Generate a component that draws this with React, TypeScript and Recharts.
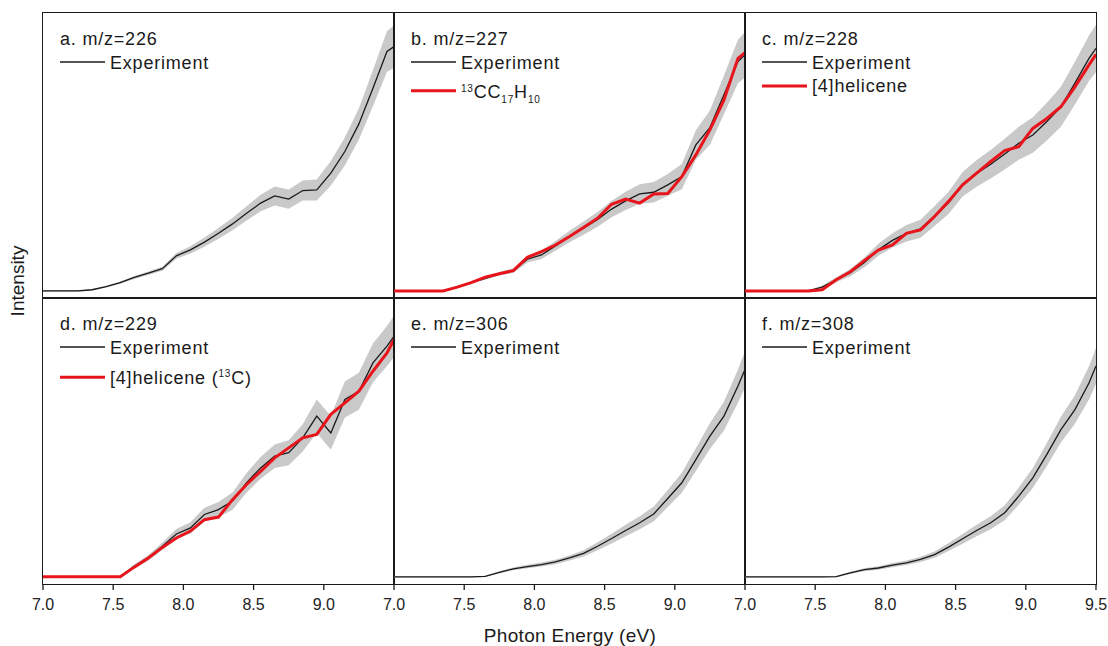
import React from "react"
import { ComposedChart, Line, Area, XAxis, YAxis } from "recharts"

// photon energy grid (eV), shared by every panel
const energy = [
  7.0, 7.05, 7.15, 7.25, 7.35, 7.45, 7.55, 7.65, 7.75, 7.85, 7.95, 8.05, 8.15, 8.25,
  8.35, 8.45, 8.55, 8.65, 8.75, 8.85, 8.95, 9.05, 9.15, 9.25, 9.35, 9.45, 9.5,
]

// a. m/z=226
const expA = [0, 0, 0, 0, 0.4, 1.5, 2.9, 4.7, 6.2, 7.8, 12.3, 14.4, 17.1, 20.2, 23.5, 27.2, 30.8, 33.3, 32.2, 35.2, 35.4, 41.3, 48.9, 58.6, 71.1, 84.0, 85.7]
const errA = [0.3, 0.3, 0.3, 0.3, 0.3, 0.3, 0.4, 0.5, 0.6, 0.7, 1.0, 1.3, 1.6, 1.9, 2.2, 2.5, 2.9, 3.3, 3.4, 3.5, 3.7, 4.3, 4.9, 5.5, 6.3, 7.1, 7.5]

// b. m/z=227
const expB = [0, 0, 0, 0, 0, 1.3, 2.9, 4.4, 6.0, 7.1, 11.1, 12.6, 15.8, 19.1, 22.0, 25.1, 28.7, 31.6, 34.0, 34.6, 37.2, 40.1, 51.2, 57.3, 68.8, 80.5, 82.8]
const errB = [0.3, 0.3, 0.3, 0.3, 0.3, 0.3, 0.4, 0.5, 0.6, 0.8, 1.1, 1.4, 1.7, 2.0, 2.3, 2.6, 2.9, 3.2, 3.4, 3.6, 3.8, 4.4, 5.2, 6.0, 6.8, 7.6, 8.0]
const modelB = [0, 0, 0, 0, 0, 1.3, 2.9, 4.8, 6.0, 7.1, 11.8, 13.8, 16.1, 19.1, 22.2, 25.5, 30.4, 32.2, 30.8, 34.0, 34.2, 40.1, 47.7, 56.5, 67.0, 81.6, 83.6]

// c. m/z=228
const expC = [0, 0, 0, 0, 0, 0, 1.3, 3.9, 6.4, 10.0, 14.4, 17.7, 20.2, 21.8, 26.3, 30.9, 37.4, 41.2, 44.4, 48.0, 51.8, 54.7, 59.4, 64.6, 72.9, 81.6, 85.1]
const errC = [0.3, 0.3, 0.3, 0.3, 0.3, 0.3, 0.6, 0.9, 1.3, 1.7, 2.1, 2.5, 2.9, 3.2, 3.5, 3.9, 4.3, 4.7, 5.0, 5.4, 5.8, 6.2, 6.6, 7.0, 7.5, 8.0, 8.3]
const modelC = [0, 0, 0, 0, 0, 0, 0.4, 3.9, 6.7, 10.6, 14.3, 16.1, 20.2, 21.4, 26.1, 31.4, 37.2, 41.3, 45.4, 49.2, 50.6, 57.0, 60.5, 64.6, 71.6, 79.3, 83.0]

// d. m/z=229
const expD = [0, 0, 0, 0, 0, 0, 0, 3.7, 6.6, 10.7, 15.0, 17.1, 21.8, 23.5, 26.5, 32.9, 38.1, 42.2, 43.4, 48.6, 56.2, 50.3, 62.0, 64.9, 74.8, 80.7, 84.1]
const errD = [0.3, 0.3, 0.3, 0.3, 0.3, 0.3, 0.3, 0.7, 1.0, 1.3, 1.7, 2.0, 2.4, 2.7, 3.0, 3.4, 3.8, 4.1, 4.4, 4.8, 5.8, 5.9, 6.3, 6.5, 6.8, 7.0, 7.2]
const modelD = [0, 0, 0, 0, 0, 0, 0, 3.4, 6.6, 10.3, 13.6, 16.0, 20.0, 20.9, 27.0, 32.3, 36.9, 41.6, 45.1, 48.6, 49.8, 56.8, 60.8, 64.9, 71.9, 78.3, 83.0]

// e. m/z=306
const expE = [0, 0, 0, 0, 0, 0, 0, 0.2, 1.6, 2.8, 3.6, 4.3, 5.2, 6.6, 8.2, 10.7, 13.4, 16.2, 18.9, 22.0, 27.4, 32.9, 41.0, 49.2, 56.2, 66.7, 72.5]
const errE = [0.2, 0.2, 0.2, 0.2, 0.2, 0.2, 0.2, 0.2, 0.4, 0.5, 0.6, 0.7, 0.8, 0.9, 1.1, 1.4, 1.7, 2.0, 2.3, 2.6, 3.0, 3.5, 4.0, 4.5, 5.0, 5.8, 6.3]

// f. m/z=308
const expF = [0, 0, 0, 0, 0, 0, 0, 0.1, 1.4, 2.5, 3.1, 4.1, 4.9, 6.1, 7.8, 10.4, 13.3, 16.2, 18.9, 22.4, 28.2, 34.6, 42.8, 51.5, 58.5, 67.8, 73.7]
const errF = [0.2, 0.2, 0.2, 0.2, 0.2, 0.2, 0.2, 0.2, 0.4, 0.5, 0.6, 0.7, 0.8, 0.9, 1.1, 1.4, 1.7, 2.0, 2.3, 2.6, 3.0, 3.5, 4.0, 4.5, 5.0, 5.8, 6.3]

const minorTicks = [
  7.0, 7.1, 7.2, 7.3, 7.4, 7.5, 7.6, 7.7, 7.8, 7.9, 8.0, 8.1, 8.2,
  8.3, 8.4, 8.5, 8.6, 8.7, 8.8, 8.9, 9.0, 9.1, 9.2, 9.3, 9.4, 9.5,
]
const tickLabels = [7.0, 7.5, 8.0, 8.5, 9.0]
const lastTickLabels = [7.0, 7.5, 8.0, 8.5, 9.0, 9.5]

const titles = ["a. m/z=226", "b. m/z=227", "c. m/z=228", "d. m/z=229", "e. m/z=306", "f. m/z=308"]

const FONT = "'Liberation Sans', Arial, sans-serif"
const INK = "#1a1a1a"
const RED = "#e8141b"
const BAND = "#c9c9c9"

const colX = [43, 394, 745]
const rowY = [13, 298]
const rowH = [285, 286]
const PANEL_W = 351
const PAD = 24
const AXIS_H = 34

function Panel({ col, row, exp, err, model, labels }: any) {
  const data = energy.map((e, i) => ({
    e,
    exp: exp[i],
    band: [exp[i] - err[i], exp[i] + err[i]],
    model: model ? model[i] : null,
  }))
  const h = rowH[row]
  const showText = row === 1
  return (
    <div style={{ position: "absolute", left: colX[col] - PAD, top: rowY[row] }}>
      <ComposedChart
        width={PANEL_W + 2 * PAD}
        height={h + AXIS_H}
        data={data}
        margin={{ top: 0, right: PAD, bottom: 0, left: PAD }}
      >
        <XAxis
          xAxisId="minor"
          dataKey="e"
          type="number"
          domain={[7, 9.5]}
          ticks={minorTicks}
          interval={0}
          height={0}
          axisLine={false}
          tick={false}
          tickSize={4}
          tickLine={{ stroke: INK, strokeWidth: 1.3 }}
        />
        <XAxis
          xAxisId="major"
          dataKey="e"
          type="number"
          domain={[7, 9.5]}
          ticks={labels}
          interval={0}
          height={AXIS_H}
          axisLine={false}
          tickSize={6}
          tickMargin={9}
          tickLine={{ stroke: INK, strokeWidth: 1.3 }}
          tick={showText ? { fontSize: 16, fill: "#222", fontFamily: FONT } : false}
          tickFormatter={(v: number) => v.toFixed(1)}
        />
        <YAxis type="number" domain={[-2.5, 97.5]} hide />
        <Area xAxisId="minor" type="linear" dataKey="band" stroke="none" fill={BAND} fillOpacity={1} isAnimationActive={false} />
        <Line xAxisId="minor" type="linear" dataKey="exp" stroke={INK} strokeWidth={1.3} dot={false} isAnimationActive={false} />
        {model && (
          <Line xAxisId="minor" type="linear" dataKey="model" stroke={RED} strokeWidth={3} dot={false} isAnimationActive={false} />
        )}
      </ComposedChart>
      <div
        style={{
          position: "absolute",
          left: PAD - 0.8,
          top: -0.8,
          width: PANEL_W + 1.6,
          height: h + 1.6,
          border: `1.6px solid ${INK}`,
          boxSizing: "border-box",
          pointerEvents: "none",
        }}
      />
    </div>
  )
}

const txt = { fontFamily: FONT, fontSize: 18, fill: INK, letterSpacing: 0.8 }

function Annotations() {
  const items: React.ReactNode[] = []
  titles.forEach((t, i) => {
    const cx = colX[i % 3]
    const ty = rowY[Math.floor(i / 3)]
    items.push(
      <g key={t}>
        <text x={cx + 17} y={ty + 31.5} {...txt}>{t}</text>
        <line x1={cx + 17} x2={cx + 62} y1={ty + 49} y2={ty + 49} stroke={INK} strokeWidth={1.3} />
        <text x={cx + 67} y={ty + 55.5} {...txt}>Experiment</text>
      </g>
    )
  })
  const redLine = (cx: number, y: number) => (
    <line x1={cx + 17} x2={cx + 62} y1={y} y2={y} stroke={RED} strokeWidth={3} />
  )
  return (
    <svg width={1108} height={646} style={{ position: "absolute", left: 0, top: 0, pointerEvents: "none" }}>
      {items}
      {redLine(colX[1], rowY[0] + 77.7)}
      <text x={colX[1] + 67} y={rowY[0] + 84.7} {...txt}>
        <tspan fontSize={10} dy={-6}>13</tspan>
        <tspan dy={6}>CC</tspan>
        <tspan fontSize={10} dy={5}>17</tspan>
        <tspan dy={-5}>H</tspan>
        <tspan fontSize={10} dy={5}>10</tspan>
      </text>
      {redLine(colX[2], rowY[0] + 73)}
      <text x={colX[2] + 67} y={rowY[0] + 79} {...txt}>[4]helicene</text>
      {redLine(colX[0], rowY[1] + 79.3)}
      <text x={colX[0] + 67} y={rowY[1] + 85.5} {...txt}>
        [4]helicene (<tspan fontSize={10} dy={-7}>13</tspan>
        <tspan dy={7}>C)</tspan>
      </text>
      <text x={570} y={641.5} textAnchor="middle" fontFamily={FONT} fontSize={19} fill={INK} letterSpacing={0.3}>
        Photon Energy (eV)
      </text>
      <text
        x={23.5}
        y={281}
        transform="rotate(-90 23.5 281)"
        textAnchor="middle"
        fontFamily={FONT}
        fontSize={19}
        fill={INK}
      >
        Intensity
      </text>
    </svg>
  )
}

export default function App() {
  return (
    <div style={{ position: "absolute", left: 0, top: 0, width: 1108, height: 646, background: "#fff", overflow: "hidden" }}>
      <Panel col={0} row={0} exp={expA} err={errA} labels={tickLabels} />
      <Panel col={1} row={0} exp={expB} err={errB} model={modelB} labels={tickLabels} />
      <Panel col={2} row={0} exp={expC} err={errC} model={modelC} labels={lastTickLabels} />
      <Panel col={0} row={1} exp={expD} err={errD} model={modelD} labels={tickLabels} />
      <Panel col={1} row={1} exp={expE} err={errE} labels={tickLabels} />
      <Panel col={2} row={1} exp={expF} err={errF} labels={lastTickLabels} />
      <Annotations />
    </div>
  )
}
